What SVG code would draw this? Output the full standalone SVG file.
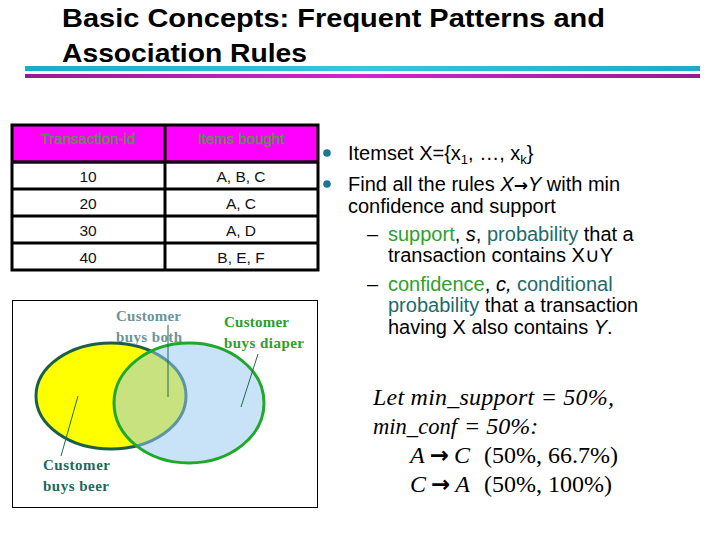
<svg xmlns="http://www.w3.org/2000/svg" width="720" height="540" viewBox="0 0 720 540">
<defs>
<linearGradient id="gc" x1="0" y1="0" x2="1" y2="0">
<stop offset="0" stop-color="#1fa9c4"/><stop offset="0.5" stop-color="#3cc4dc"/><stop offset="1" stop-color="#1fa9c4"/>
</linearGradient>
<linearGradient id="gm" x1="0" y1="0" x2="1" y2="0">
<stop offset="0" stop-color="#951c90"/><stop offset="0.5" stop-color="#d422d2"/><stop offset="1" stop-color="#951c90"/>
</linearGradient>
<style>
.title{font-family:"Liberation Sans",Arial,sans-serif;font-weight:bold;font-size:26px;fill:#000}
.hdr{font-family:"Liberation Sans",Arial,sans-serif;font-size:15px;fill:#4a9440;stroke:#5e9a50;stroke-width:0.4;text-anchor:middle}
.cell{font-family:"Liberation Sans",Arial,sans-serif;font-size:15.5px;fill:#111;text-anchor:middle}
.grid{stroke:#000;stroke-width:3;fill:none}
.body{font-family:"Liberation Sans",Arial,sans-serif;font-size:20px;fill:#000}
.g{fill:#2ea02e}
.t{fill:#1d6b6b}
.ven{font-family:"Liberation Serif","Times New Roman",serif;font-weight:bold;font-size:15px}
.lead{stroke:#1d6b4f;stroke-width:1}
.rule{font-family:"Liberation Serif","Times New Roman",serif;font-size:24px;fill:#000}
.arr{font-family:"DejaVu Sans",sans-serif;font-weight:bold;font-style:normal}
</style>
</defs>
<rect width="720" height="540" fill="#fff"/>

<g id="title">
<text class="title" x="62" y="27" textLength="543" lengthAdjust="spacingAndGlyphs">Basic Concepts: Frequent Patterns and</text>
<text class="title" x="62" y="62" textLength="245" lengthAdjust="spacingAndGlyphs">Association Rules</text>
<rect x="25" y="66" width="675" height="5" fill="url(#gc)"/>
<rect x="25" y="74" width="675" height="4" fill="url(#gm)"/>
</g>

<g id="table">
<rect x="12" y="125" width="306" height="37" fill="#ff00ff"/>
<rect x="12" y="125" width="306" height="145" class="grid"/>
<line x1="12" y1="162" x2="318" y2="162" stroke="#1a001a" stroke-width="3.5"/>
<line x1="12" y1="189" x2="318" y2="189" class="grid"/>
<line x1="12" y1="216" x2="318" y2="216" class="grid"/>
<line x1="12" y1="243" x2="318" y2="243" class="grid"/>
<line x1="165" y1="125" x2="165" y2="270" class="grid"/>
<text class="hdr" x="88" y="144">Transaction-id</text>
<text class="hdr" x="241" y="144">Items bought</text>
<text class="cell" x="88" y="182">10</text>
<text class="cell" x="241" y="182">A, B, C</text>
<text class="cell" x="88" y="209">20</text>
<text class="cell" x="241" y="209">A, C</text>
<text class="cell" x="88" y="236">30</text>
<text class="cell" x="241" y="236">A, D</text>
<text class="cell" x="88" y="263">40</text>
<text class="cell" x="241" y="263">B, E, F</text>
</g>

<g id="venn">
<rect x="12.5" y="300.5" width="305" height="207" fill="#fff" stroke="#000" stroke-width="1"/>
<ellipse cx="111" cy="396" rx="75" ry="53" fill="#ffff00" stroke="#1b5e4a" stroke-width="3"/>
<ellipse cx="189" cy="403" rx="75" ry="60" fill="#97c8f1" fill-opacity="0.53"/>
<ellipse cx="189" cy="403" rx="75" ry="60" fill="none" stroke="#1fa82a" stroke-width="3"/>
<text class="ven" x="116" y="321" fill="#6a9696" textLength="65">Customer</text>
<text class="ven" x="116" y="342" fill="#6a9696" textLength="66">buys both</text>
<text class="ven" x="224" y="327" fill="#2aa02a" textLength="65">Customer</text>
<text class="ven" x="224" y="348" fill="#2aa02a" textLength="80">buys diaper</text>
<text class="ven" x="43" y="470" fill="#1a6a5a" textLength="67">Customer</text>
<text class="ven" x="43" y="491" fill="#1a6a5a" textLength="66">buys beer</text>
</g>

<g id="connectors">
<line class="lead" x1="168" y1="325" x2="168" y2="397"/>
<line class="lead" x1="258" y1="354" x2="241" y2="407"/>
<line class="lead" x1="78" y1="396" x2="61" y2="456"/>
</g>

<g id="bullets">
<circle cx="327" cy="153" r="3.8" fill="#1a7896"/>
<circle cx="327" cy="184" r="3.8" fill="#1a7896"/>
<text class="body" x="348" y="160">Itemset X={x<tspan font-size="13" dy="4">1</tspan><tspan dy="-4">, …, x</tspan><tspan font-size="13" dy="4">k</tspan><tspan dy="-4">}</tspan></text>
<text class="body" x="348" y="191">Find all the rules <tspan font-style="italic">X</tspan><tspan class="arr" font-size="17">→</tspan><tspan font-style="italic">Y</tspan> with min</text>
<text class="body" x="348" y="213">confidence and support</text>
<text class="body" x="367" y="241">–</text>
<text class="body" x="388" y="241"><tspan class="g">support</tspan>, <tspan font-style="italic">s</tspan>, <tspan class="t">probability</tspan> that a</text>
<text class="body" x="388" y="262">transaction contains X∪Y</text>
<text class="body" x="367" y="291">–</text>
<text class="body" x="388" y="291"><tspan class="g">confidence</tspan>, <tspan font-style="italic">c,</tspan> <tspan class="t">conditional</tspan></text>
<text class="body" x="388" y="312"><tspan class="t">probability</tspan> that a transaction</text>
<text class="body" x="388" y="334">having X also contains <tspan font-style="italic">Y</tspan>.</text>
</g>

<g id="example">
<text class="rule" x="373" y="405" font-style="italic" textLength="241">Let  min_support = 50%,</text>
<text class="rule" font-style="italic" y="434"><tspan x="373" textLength="84" lengthAdjust="spacingAndGlyphs">min_conf</tspan><tspan x="464">= 50%:</tspan></text>
<text class="rule" x="410" y="463"><tspan font-style="italic">A</tspan><tspan class="arr" font-size="23" dx="5">→</tspan><tspan font-style="italic" dx="5">C</tspan><tspan dx="14">(50%, 66.7%)</tspan></text>
<text class="rule" x="410" y="492"><tspan font-style="italic">C</tspan><tspan class="arr" font-size="23" dx="5">→</tspan><tspan font-style="italic" dx="5">A</tspan><tspan dx="14">(50%, 100%)</tspan></text>
</g>
</svg>
